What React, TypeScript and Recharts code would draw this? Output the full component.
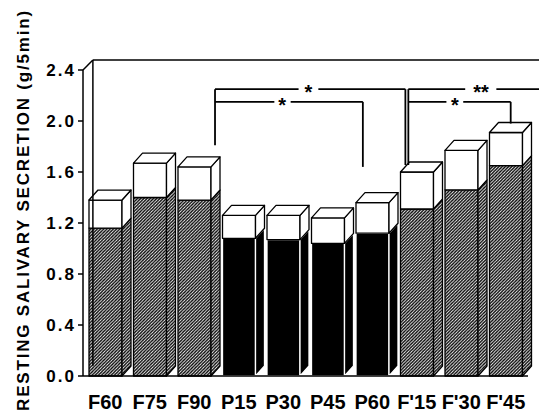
import { BarChart, Bar, XAxis, YAxis, ReferenceLine, ReferenceDot } from 'recharts';

const categories = ['F60', 'F75', 'F90', 'P15', 'P30', 'P45', 'P60', "F'15", "F'30", "F'45"];
const lowerValues = [1.16, 1.4, 1.38, 1.08, 1.07, 1.04, 1.12, 1.31, 1.46, 1.65];
const totalValues = [1.38, 1.67, 1.64, 1.26, 1.26, 1.24, 1.36, 1.6, 1.77, 1.91];
const lowerKind = ['hatch', 'hatch', 'hatch', 'solid', 'solid', 'solid', 'solid', 'hatch', 'hatch', 'hatch'];
const yTicks = [0, 0.4, 0.8, 1.2, 1.6, 2.0, 2.4];

// significance brackets, x in bar-slot units (0..10) on a hidden numeric axis
const bracketLines = [
  // left pair
  [[2.67, 2.25], [4.36, 2.25]],
  [[4.76, 2.25], [6.52, 2.25]],
  [[2.67, 2.25], [2.67, 1.81]],
  [[6.52, 2.25], [6.52, 1.655]],
  [[2.67, 2.15], [3.87, 2.15]],
  [[4.2, 2.15], [5.66, 2.15]],
  [[5.66, 2.15], [5.66, 1.64]],
  // right pair
  [[6.58, 2.25], [7.73, 2.25]],
  [[8.36, 2.25], [9.78, 2.25]],
  [[6.58, 2.25], [6.58, 1.655]],
  [[9.78, 2.25], [9.78, 2.1]],
  [[6.58, 2.15], [7.35, 2.15]],
  [[7.69, 2.15], [8.65, 2.15]],
  [[8.65, 2.15], [8.65, 1.98]],
];
const stars = [
  { x: 4.56, y: 2.25, text: '*' },
  { x: 4.03, y: 2.15, text: '*' },
  { x: 8.05, y: 2.25, text: '**' },
  { x: 7.52, y: 2.15, text: '*' },
];
// back wall of the 3D frame
const frameLines = [
  [[0.2, 2.478], [10.25, 2.478]],
  [[0.2, 2.478], [0.2, 0.08]],
  [[0, 2.4], [0.2, 2.478]],
  [[10, 0], [10.2, 0.078]],
];

const data = categories.map((name, i) => ({
  name,
  lower: lowerValues[i],
  upper: +(totalValues[i] - lowerValues[i]).toFixed(2),
  kind: lowerKind[i],
}));

const DX = 9;
const DY = 10;

function Box3D(props: any) {
  const { x, y, width, height, payload, top } = props;
  if (height == null || width == null) return null;
  const solid = !top && payload.kind === 'solid';
  const fill = top ? '#fff' : solid ? '#000' : 'url(#hatch)';
  const stroke = solid ? '#fff' : '#000';
  const r = x + width;
  return (
    <g strokeLinejoin="round">
      <rect x={x} y={y} width={width} height={height} fill={fill} stroke={stroke} strokeWidth={1.3} />
      <polygon
        points={`${r},${y} ${r + DX},${y - DY} ${r + DX},${y + height - DY} ${r},${y + height}`}
        fill={fill}
        stroke={stroke}
        strokeWidth={1.3}
      />
      {top && (
        <polygon
          points={`${x},${y} ${x + DX},${y - DY} ${r + DX},${y - DY} ${r},${y}`}
          fill="#fff"
          stroke="#000"
          strokeWidth={1.3}
        />
      )}
    </g>
  );
}

const font = '"Liberation Sans", Arial, Helvetica, sans-serif';

export default function App() {
  return (
    <div style={{ position: 'absolute', left: 0, top: 0, width: 539, height: 415, background: '#fff' }}>
      <BarChart
        width={539}
        height={415}
        data={data}
        margin={{ top: 70, right: 11, bottom: 9, left: 23 }}
        barCategoryGap={0}
        style={{ fontFamily: font }}
      >
        <defs>
          <pattern id="hatch" patternUnits="userSpaceOnUse" width={3.2} height={3.2}>
            <rect width={3.2} height={3.2} fill="#fff" />
            <path d="M-1,1 L1,-1 M0,3.2 L3.2,0 M2.2,4.2 L4.2,2.2" stroke="#000" strokeWidth={1.3} />
          </pattern>
        </defs>
        <XAxis
          dataKey="name"
          height={30}
          tickLine={false}
          tickMargin={13}
          axisLine={{ stroke: '#000', strokeWidth: 1.5 }}
          tick={{ fontSize: 20, fontWeight: 'bold', fill: '#000' }}
          interval={0}
        />
        <XAxis xAxisId="num" type="number" domain={[0, 10]} allowDataOverflow hide />
        <YAxis
          width={60}
          domain={[0, 2.4]}
          ticks={yTicks}
          interval={0}
          tickFormatter={(v) => v.toFixed(1)}
          axisLine={{ stroke: '#000', strokeWidth: 1.5 }}
          tickLine={{ stroke: '#000', strokeWidth: 1.5 }}
          tickSize={5}
          tickMargin={2}
          tick={{ fontSize: 17, fontWeight: 'bold', fill: '#000', letterSpacing: 2 }}
        />
        {frameLines.map((s, i) => (
          <ReferenceLine
            key={'f' + i}
            xAxisId="num"
            segment={[{ x: s[0][0], y: s[0][1] }, { x: s[1][0], y: s[1][1] }]}
            stroke="#000"
            strokeWidth={1.5}
            ifOverflow="visible"
          />
        ))}
        <Bar dataKey="lower" stackId="a" barSize={33} isAnimationActive={false} shape={(p: any) => <Box3D {...p} top={false} />} />
        <Bar dataKey="upper" stackId="a" barSize={33} isAnimationActive={false} shape={(p: any) => <Box3D {...p} top />} />
        {bracketLines.map((s, i) => (
          <ReferenceLine
            key={'b' + i}
            xAxisId="num"
            segment={[{ x: s[0][0], y: s[0][1] }, { x: s[1][0], y: s[1][1] }]}
            stroke="#000"
            strokeWidth={1.8}
            ifOverflow="visible"
          />
        ))}
        {stars.map((s, i) => (
          <ReferenceDot
            key={'s' + i}
            xAxisId="num"
            x={s.x}
            y={s.y}
            r={0}
            fill="none"
            stroke="none"
            ifOverflow="visible"
            label={{ value: s.text, position: 'center', fontSize: 20, fontWeight: 'bold', fill: '#000', dy: 3 }}
          />
        ))}
      </BarChart>
      <svg width={539} height={415} style={{ position: 'absolute', left: 0, top: 0, pointerEvents: 'none' }}>
        <text
          x={29}
          y={210}
          transform="rotate(-90, 29, 210)"
          textAnchor="middle"
          fontFamily={font}
          fontWeight="bold"
          fontSize={17}
          letterSpacing={1.8}
          fill="#000"
        >
          RESTING SALIVARY SECRETION (g/5min)
        </text>
      </svg>
    </div>
  );
}
